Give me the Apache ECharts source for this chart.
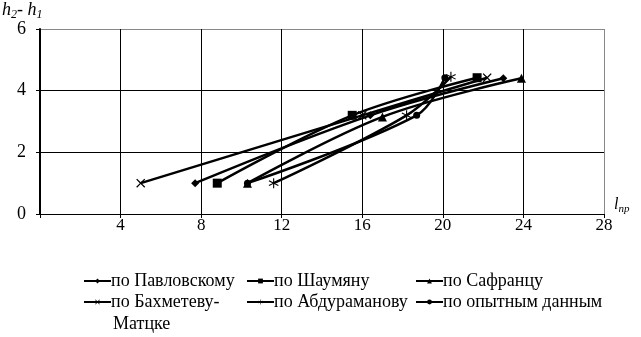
<!DOCTYPE html>
<html><head><meta charset="utf-8">
<script src="https://cdn.jsdelivr.net/npm/echarts@6/dist/echarts.min.js"></script>
<style>html,body{margin:0;padding:0;background:#fff}#c{width:641px;height:337px}</style>
</head><body><div id="c"></div>
<script>
const seriesNames = ['по Павловскому','по Шаумяну','по Сафранцу','по Бахметеву-Матцке','по Абдураманову','по опытным данным'];
const pavlovsky = [[7.7,1.0],[16.4,3.2],[23.0,4.4]];
const shaumyan = [[8.8,1.0],[15.5,3.2],[21.7,4.42]];
const safrants = [[10.3,1.0],[17.0,3.15],[23.9,4.4]];
const bakhmetev = [[5.0,1.0],[16.0,3.2],[22.2,4.42]];
const abduramanov = [[11.6,1.0],[18.2,3.2],[20.4,4.45]];
const opytnye = [[10.3,1.0],[18.7,3.2],[20.1,4.42]];
const xTicks = [0,4,8,12,16,20,24,28];
const yTicks = [0,2,4,6];

const xSym = 'path://M1,0L5,4L9,0L10,1L6,5L10,9L9,10L5,6L1,10L0,9L4,5L0,1Z';
const starSym = 'path://M4.5,0H5.5V4.2L9,2.2L9.5,3.1L6,5L9.5,6.9L9,7.8L5.5,5.8V10H4.5V5.8L1,7.8L0.5,6.9L4,5L0.5,3.1L1,2.2L4.5,4.2Z';
const symbols = ['diamond','rect','triangle',xSym,starSym,'circle'];
const sizes = [8,9,9,9,10,7];
const datas = [pavlovsky,shaumyan,safrants,bakhmetev,abduramanov,opytnye];

const chart = echarts.init(document.getElementById('c'));
const serif = '"Liberation Serif","Times New Roman",serif';
const legendPos = [[83,272],[246,272],[415,272],[83,293],[246,293],[415,293]];
const legends = legendPos.map((p,i)=>({
  left:p[0], top:p[1], data:[seriesNames[i]], orient:'horizontal',
  itemWidth:27, itemHeight:6, itemGap:0, padding:0,
  formatter: n => n === 'по Бахметеву-Матцке' ? 'по Бахметеву-' : n,
  textStyle:{fontFamily:serif,fontSize:18,color:'#000',padding:[0,0,0,-5]}
}));
chart.setOption({
  animation:false,
  grid:{left:40,right:37,top:29,bottom:123,containLabel:false},
  xAxis:{type:'value',min:xTicks[0],max:xTicks[xTicks.length-1],interval:4,
    axisLine:{show:true,onZero:false,lineStyle:{color:'#000',width:1}},
    axisTick:{show:true,length:4,lineStyle:{color:'#000'}},
    axisLabel:{fontFamily:serif,fontSize:17,color:'#000',margin:3,
      formatter:v=>v===0?'':String(v)},
    splitLine:{show:true,lineStyle:{color:['#000','#000','#000','#000','#000','#000','#000','#888'],width:1}}
  },
  yAxis:{type:'value',min:yTicks[0],max:yTicks[yTicks.length-1],interval:2,
    axisLine:{show:true,lineStyle:{color:'#000',width:2}},
    axisTick:{show:true,length:4,lineStyle:{color:'#000'}},
    axisLabel:{fontFamily:serif,fontSize:18,color:'#000',margin:14},
    splitLine:{show:true,lineStyle:{color:['#000','#000','#000','#888'],width:1}}
  },
  legend:legends,
  graphic:[
    {type:'text',left:2,top:1,style:{
      text:'{i|h}{s|2}{i|- h}{s|1}',
      rich:{i:{fontFamily:serif,fontStyle:'italic',fontSize:18,fill:'#000'},
            s:{fontFamily:serif,fontStyle:'italic',fontSize:12,fill:'#000',padding:[9,0,0,0]}}}},
    {type:'text',left:614,top:197,style:{
      text:'{i|l}{s|np}',
      rich:{i:{fontFamily:serif,fontStyle:'italic',fontSize:16,fill:'#000'},
            s:{fontFamily:serif,fontStyle:'italic',fontSize:11,fill:'#000',padding:[8,0,0,0]}}}},
    {type:'text',left:113,top:315,style:{text:'Матцке',fontFamily:serif,fontSize:18,fill:'#000'}}
  ],
  series: datas.map((d,i)=>({
    name:seriesNames[i], type:'line', data:d, smooth:0.35,
    symbol:symbols[i], symbolSize:sizes[i], showSymbol:true,
    lineStyle:{color:'#000',width:2.5},
    itemStyle:{color:'#000',borderColor:'#000',borderWidth:0},
    z:3
  }))
});
</script></body></html>
